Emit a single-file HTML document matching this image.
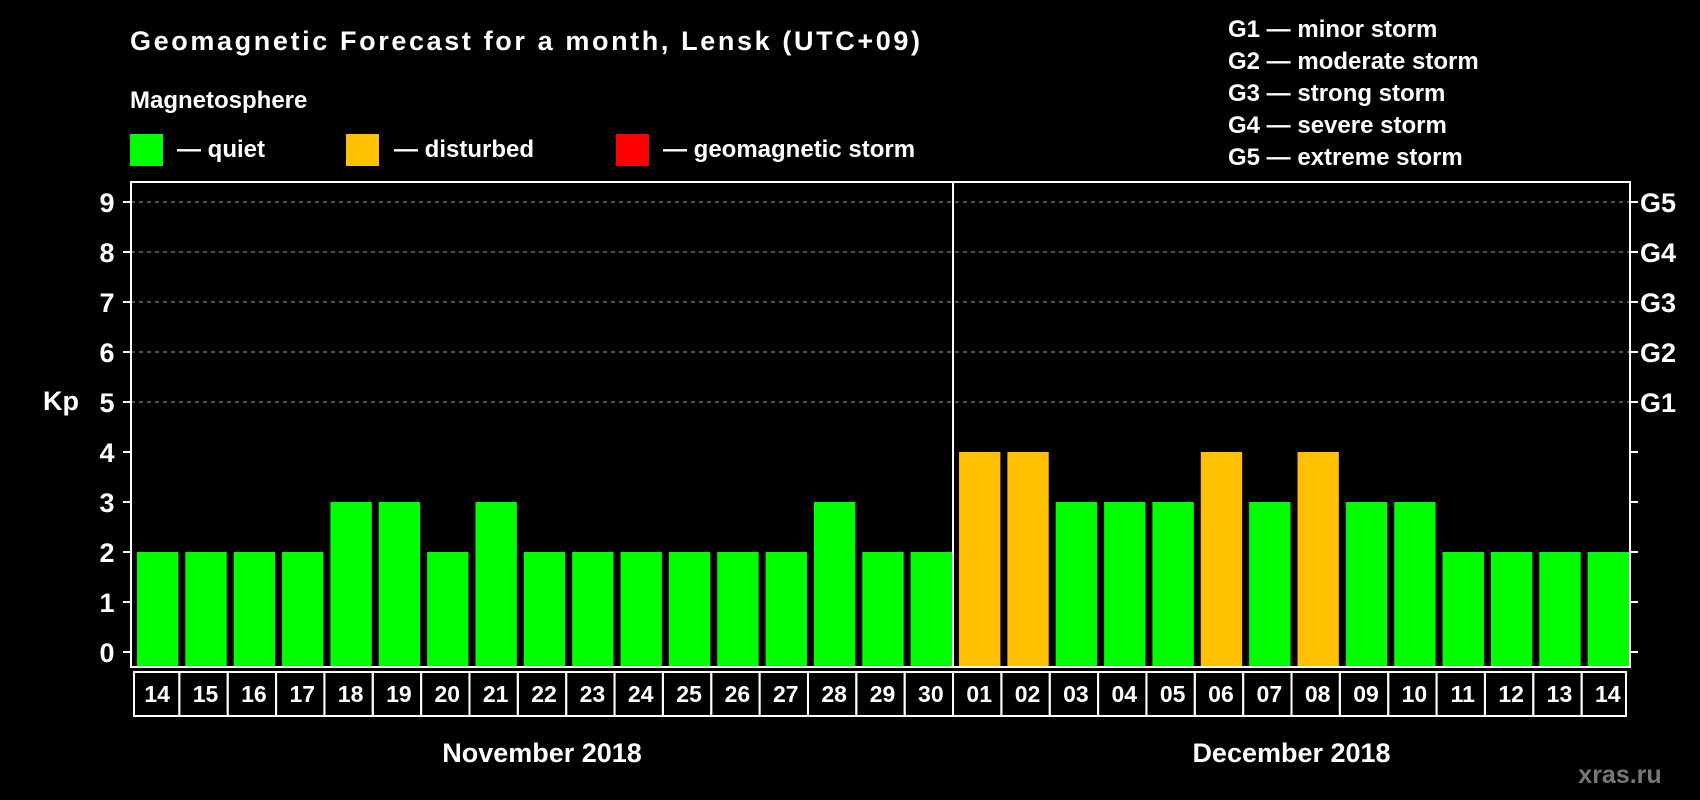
<!DOCTYPE html>
<html><head><meta charset="utf-8"><style>
html,body{margin:0;padding:0;background:#000;}
svg{display:block;font-family:"Liberation Sans",Arial,sans-serif;font-weight:bold;}
</style></head><body>
<svg id="chart" width="1700" height="800" viewBox="0 0 1700 800">
<rect x="0" y="0" width="1700" height="800" fill="#000"/>
<text x="130" y="50" font-size="27" fill="#fff" textLength="790">Geomagnetic Forecast for a month, Lensk (UTC+09)</text>
<text x="130" y="108" font-size="24" fill="#fff">Magnetosphere</text>
<rect x="130" y="134" width="33" height="32" fill="#00ff00"/>
<text x="177" y="157" font-size="24" fill="#fff">— quiet</text>
<rect x="346" y="134" width="33" height="32" fill="#ffc000"/>
<text x="394" y="157" font-size="24" fill="#fff">— disturbed</text>
<rect x="616" y="134" width="33" height="32" fill="#ff0000"/>
<text x="663" y="157" font-size="24" fill="#fff">— geomagnetic storm</text>
<g font-size="24" fill="#fff">
<text x="1228" y="37">G1 — minor storm</text>
<text x="1228" y="69">G2 — moderate storm</text>
<text x="1228" y="101">G3 — strong storm</text>
<text x="1228" y="133">G4 — severe storm</text>
<text x="1228" y="165">G5 — extreme storm</text>
</g>
<text x="43" y="410" font-size="27" fill="#fff">Kp</text>
<text x="1620" y="783" font-size="25" fill="#777" text-anchor="middle">xras.ru</text>
<g id="plot"></g>
</svg>
<script>
const days = ["14","15","16","17","18","19","20","21","22","23","24","25","26","27","28","29","30","01","02","03","04","05","06","07","08","09","10","11","12","13","14"];
const kpValues = [2,2,2,2,3,3,2,3,2,2,2,2,2,2,3,2,2,4,4,3,3,3,4,3,4,3,3,2,2,2,2];
const yTicks = [0,1,2,3,4,5,6,7,8,9];
const gLabels = ["G1","G2","G3","G4","G5"];
const gLevels = [5,6,7,8,9];
const months = ["November 2018","December 2018"];
const monthStarts = [0,17];

const NS="http://www.w3.org/2000/svg";
const L=131,R=1630,T=182,B=667;
const Y0=652,UNIT=50;
const n=days.length, step=(R-L)/n;
function y(v){return Y0-v*UNIT;}
function xs(i){return L+i*step;}
function color(v){return v>=5?"#ff0000":(v>=4?"#ffc000":"#00ff00");}
const g=document.getElementById("plot");
function mk(tag,attrs){const e=document.createElementNS(NS,tag);for(const k in attrs)e.setAttribute(k,attrs[k]);g.appendChild(e);return e;}

yTicks.forEach(v=>{
  if(v>=5){
    const ln=mk("line",{x1:L,x2:R,y1:y(v),y2:y(v),stroke:"#999","stroke-dasharray":"4,4","stroke-width":1});
    
    
  }
  const t1=mk("line",{x1:L-8,x2:L,y1:y(v),y2:y(v),stroke:"#fff","stroke-width":2});
  
  
  const t2=mk("line",{x1:R,x2:R+8,y1:y(v),y2:y(v),stroke:"#fff","stroke-width":2});
  
  
  const lb=mk("text",{x:107,y:y(v)+10,"font-size":27,fill:"#fff","text-anchor":"middle"});
  lb.textContent=v;
  
  
});
gLabels.forEach((s,i)=>{
  const t=mk("text",{x:1640,y:y(gLevels[i])+10,"font-size":27,fill:"#fff"});
  t.textContent=s;
  
  
});
kpValues.forEach((v,i)=>{
  const r=mk("rect",{x:xs(i)+6,y:y(v),width:step-7,height:Y0-y(v)+14,fill:color(v)});
  
  
});
days.forEach((d,i)=>{
  const bx=mk("rect",{x:i==0?134:xs(i),y:672,width:i==0?xs(1)-134:(i==n-1?1626-xs(i):step),height:44,fill:"none",stroke:"#fff","stroke-width":2});
  
  
  const t=mk("text",{x:xs(i)+step/2+2,y:702,"font-size":23,fill:"#fff","text-anchor":"middle"});
  t.textContent=d;
  
  
});
const frame=mk("rect",{x:L,y:T,width:R-L,height:B-T,fill:"none",stroke:"#fff","stroke-width":2});


const div=mk("line",{x1:xs(monthStarts[1]),x2:xs(monthStarts[1]),y1:T,y2:B,stroke:"#fff","stroke-width":2});


months.forEach((m,i)=>{
  const s=monthStarts[i], e=i+1<monthStarts.length?monthStarts[i+1]:n;
  const t=mk("text",{x:(xs(s)+xs(e))/2,y:762,"font-size":27,fill:"#fff","text-anchor":"middle"});
  t.textContent=m;
  
  
});
</script>
</body></html>
